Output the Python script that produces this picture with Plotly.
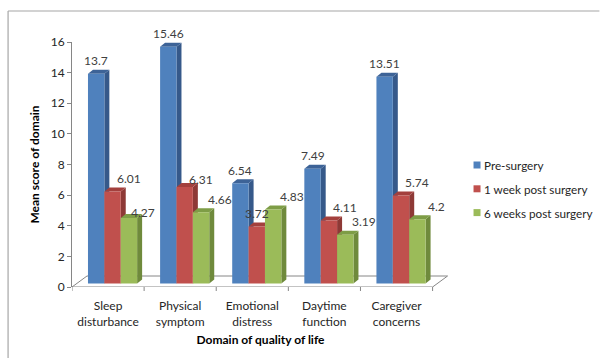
import plotly.graph_objects as go

# ---- data ----
categories = ["Sleep<br>disturbance", "Physical<br>symptom", "Emotional<br>distress",
              "Daytime<br>function", "Caregiver<br>concerns"]
series_names = ["Pre-surgery", "1 week post surgery", "6 weeks post surgery"]
pre_surgery = [13.7, 15.46, 6.54, 7.49, 13.51]
week1_post = [6.01, 6.31, 3.72, 4.11, 5.74]
week6_post = [4.27, 4.66, 4.83, 3.19, 4.2]
y_ticks = [0, 2, 4, 6, 8, 10, 12, 14, 16]

series_values = [pre_surgery, week1_post, week6_post]
front_colors = ["#4F81BD", "#C0504D", "#9BBB59"]
side_colors = ["#36598A", "#8E3936", "#6F8A3C"]
top_colors = ["#3D6397", "#A3403D", "#7E9D46"]

# ---- geometry of the pseudo-3D drawing (pixels) ----
W, H = 600, 361
PLOT_L = 72          # left edge of plot area
Y0_PX, YMAX_PX = 287, 42
CAT_PX = 72.2        # width of one category
FLOOR_DX, FLOOR_DY = 15, 11
FRONT_DX, FRONT_DY = 4.5, 3.5
BAR_DX, BAR_DY = 5, 4
BAR_PX = 16.4

y_max = 16
ypu = y_max / (Y0_PX - YMAX_PX)   # data units per pixel (y)
xpu = 1 / CAT_PX                  # data units per pixel (x)

n = len(categories)
x_lo = -0.5
x_hi = n - 0.5 + FLOOR_DX * xpu + 0.02
plot_w = (x_hi - x_lo) * CAT_PX
margin_r = W - PLOT_L - plot_w

bar_w = BAR_PX * xpu
base = FRONT_DY * ypu
fdx, fdy = FLOOR_DX * xpu, FLOOR_DY * ypu
bdx, bdy = BAR_DX * xpu, BAR_DY * ypu

font = "Lato, 'Open Sans', sans-serif"
axis_grey = "#868686"
text_col = "#262626"

# pixel -> paper helpers for decorations outside the plot area
fx = lambda px: (px - PLOT_L) / plot_w
fy = lambda py: (Y0_PX - py) / (Y0_PX - YMAX_PX)

fig = go.Figure()

shapes = []
# floor of the chart
x_right = n - 0.5
shapes.append(dict(
    type="path", xref="x", yref="y", layer="below",
    path=(f"M {x_lo},0 L {x_lo + fdx},{fdy} L {x_right + fdx},{fdy} "
          f"L {x_right},0 Z"),
    line=dict(color=axis_grey, width=1), fillcolor="rgba(0,0,0,0)"))

annotations = []
label_dx = [0, 16, 19]
label_fix = {(1, 2): (0, 13), (1, 1): (16, 7), (2, 0): (14, 6)}

for k, (name, vals) in enumerate(zip(series_names, series_values)):
    offset = (-1.5 * BAR_PX + k * BAR_PX + FRONT_DX) * xpu
    fig.add_trace(go.Bar(
        x=list(range(n)), y=vals, base=[base] * n, width=bar_w, offset=offset,
        marker=dict(color=front_colors[k], line=dict(width=0)),
        name=name, showlegend=False, hoverinfo="skip"))

for i in range(n):
    for k, vals in enumerate(series_values):
        v = vals[i]
        offset = (-1.5 * BAR_PX + k * BAR_PX + FRONT_DX) * xpu
        xl = i + offset
        xr = xl + bar_w
        top = base + v
        # right side face
        shapes.append(dict(
            type="path", xref="x", yref="y", layer="below",
            path=(f"M {xr},{base} L {xr + bdx},{base + bdy} "
                  f"L {xr + bdx},{top + bdy} L {xr},{top} Z"),
            line=dict(width=0), fillcolor=side_colors[k]))
        # top face
        shapes.append(dict(
            type="path", xref="x", yref="y", layer="below",
            path=(f"M {xl},{top} L {xl + bdx},{top + bdy} "
                  f"L {xr + bdx},{top + bdy} L {xr},{top} Z"),
            line=dict(width=0), fillcolor=top_colors[k]))
        dx, dy = label_fix.get((k, i), (label_dx[k], 13))
        annotations.append(dict(
            x=(xl + xr) / 2, y=top, xref="x", yref="y",
            text=f"{v:g}", showarrow=False, xshift=dx, yshift=dy,
            yanchor="middle", font=dict(family=font, size=12, color="#404040")))

# legend: coloured squares with series names
LEG_X, LEG_Y0, LEG_STEP, LEG_SQ = 474, 165, 23.8, 7
for k, name in enumerate(series_names):
    cy = LEG_Y0 + k * LEG_STEP
    shapes.append(dict(type="rect", xref="paper", yref="paper",
                       x0=fx(LEG_X), x1=fx(LEG_X + LEG_SQ),
                       y0=fy(cy - LEG_SQ / 2), y1=fy(cy + LEG_SQ / 2),
                       line=dict(width=0), fillcolor=front_colors[k]))
    annotations.append(dict(x=fx(LEG_X + LEG_SQ + 1.5), y=fy(cy), xref="paper", yref="paper",
                            text=name, showarrow=False, xanchor="left", yanchor="middle",
                            font=dict(family=font, size=11.7, color=text_col)))

# outer chart frame (top and left edges)
shapes.append(dict(type="line", xref="paper", yref="paper",
                   x0=fx(8), x1=fx(600), y0=fy(11), y1=fy(11),
                   line=dict(color="#A6A6A6", width=1.2)))
shapes.append(dict(type="line", xref="paper", yref="paper",
                   x0=fx(8), x1=fx(8), y0=fy(11), y1=fy(358),
                   line=dict(color="#A6A6A6", width=1.2)))

# category boundary ticks below the front edge of the floor
for b in range(n + 1):
    xb = b - 0.5
    shapes.append(dict(type="line", xref="x", yref="paper", x0=xb, x1=xb,
                       y0=0, y1=-4 / (Y0_PX - YMAX_PX),
                       line=dict(color=axis_grey, width=1)))

fig.update_layout(
    width=W, height=H,
    margin=dict(l=PLOT_L, r=margin_r, t=YMAX_PX, b=H - Y0_PX, autoexpand=False),
    paper_bgcolor="white", plot_bgcolor="white",
    barmode="overlay", showlegend=False,
    shapes=shapes, annotations=annotations,
    font=dict(family=font, size=12, color=text_col),
    xaxis=dict(
        type="linear", range=[x_lo, x_hi],
        tickmode="array", tickvals=list(range(n)), ticktext=categories,
        ticks="", ticklabelstandoff=10,
        showline=False, showgrid=False, zeroline=False,
        tickfont=dict(family=font, size=12, color=text_col),
        title=dict(text="<b>Domain of quality of life</b>", standoff=8,
                   font=dict(family=font, size=12, color="#000000"))),
    yaxis=dict(
        range=[0, y_max], tickmode="array", tickvals=y_ticks,
        ticks="outside", ticklen=4, tickcolor=axis_grey,
        showline=True, linecolor=axis_grey, linewidth=1,
        showgrid=False, zeroline=False,
        tickfont=dict(family=font, size=12, color=text_col),
        title=dict(text="<b>Mean score of domain</b>", standoff=8,
                   font=dict(family=font, size=12, color="#000000"))),
)

fig.write_html("out.html")
